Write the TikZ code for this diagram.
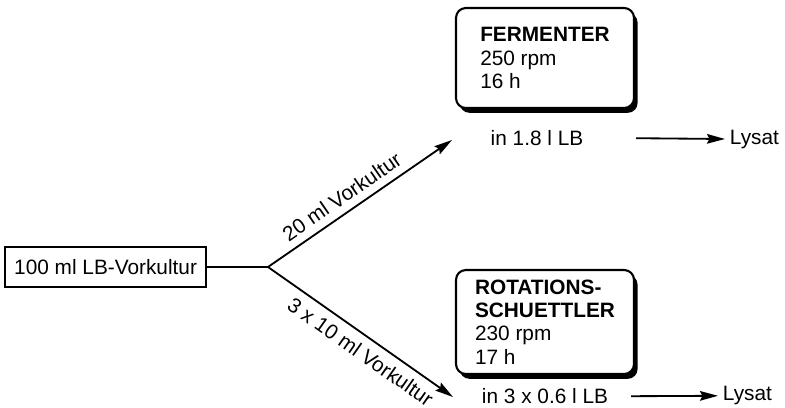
\documentclass[tikz,border=0pt]{standalone}
\usepackage{fontspec}
\setmainfont{Liberation Sans}
\usetikzlibrary{arrows.meta,positioning,shadows}

\begin{document}
\begin{tikzpicture}[
    font=\fontsize{14.8}{16.6}\selectfont,
    plainbox/.style={draw, line width=1.4pt, minimum width=5.03cm, minimum height=1cm, inner sep=2pt},
    devbox/.style={draw, line width=1.5pt, rounded corners=7pt, fill=white, align=left, minimum width=4.45cm,
        drop shadow={shadow xshift=0.09cm, shadow yshift=-0.12cm, fill=black, opacity=1}},
    arrow/.style={-{Stealth[length=4.5mm, width=2.4mm, inset=0.6mm]}, line width=1.3pt},
    conn/.style={line width=1.3pt}
  ]
    \useasboundingbox (0,0) rectangle (19.625,10.175);
    \node[plainbox] (pre) at (2.64,3.5) {100 ml LB-Vorkultur};
    \coordinate (split) at (6.7,3.5);
    \coordinate (fermIn) at (11.3,6.675);
    \coordinate (rotIn) at (11.325,0.25);
    \node[devbox, minimum height=2.5cm] (ferm) at (13.625,8.725) {\textbf{FERMENTER}\\250 rpm\\16 h};
    \node[devbox, minimum height=2.6cm] (rot) at (13.625,2.125) {\textbf{ROTATIONS-}\\\textbf{SCHUETTLER}\\230 rpm\\17 h};
    \node (fermMed) at (13.425,6.72) {in 1.8 l LB};
    \node (rotMed) at (13.625,0.27) {in 3 x 0.6 l LB};
    \node[anchor=west] (fermLys) at (18.125,6.7) {Lysat};
    \node[anchor=west] (rotLys) at (17.95,0.28) {Lysat};
    \draw[conn] (pre) -- (split);
    \draw[arrow] (split) -- node[sloped, above, pos=0.45, yshift=2pt] (upLab) {20 ml Vorkultur} (fermIn);
    \draw[arrow] (split) -- node[sloped, below, pos=0.55, yshift=-2pt] (lowLab) {3 x 10 ml Vorkultur} (rotIn);
    \draw[arrow] ([xshift=1.2cm]fermMed.east) -- (fermLys.west);
    \draw[arrow] ([xshift=0.45cm]rotMed.east) -- (rotLys.west);
  \end{tikzpicture}
\end{document}
